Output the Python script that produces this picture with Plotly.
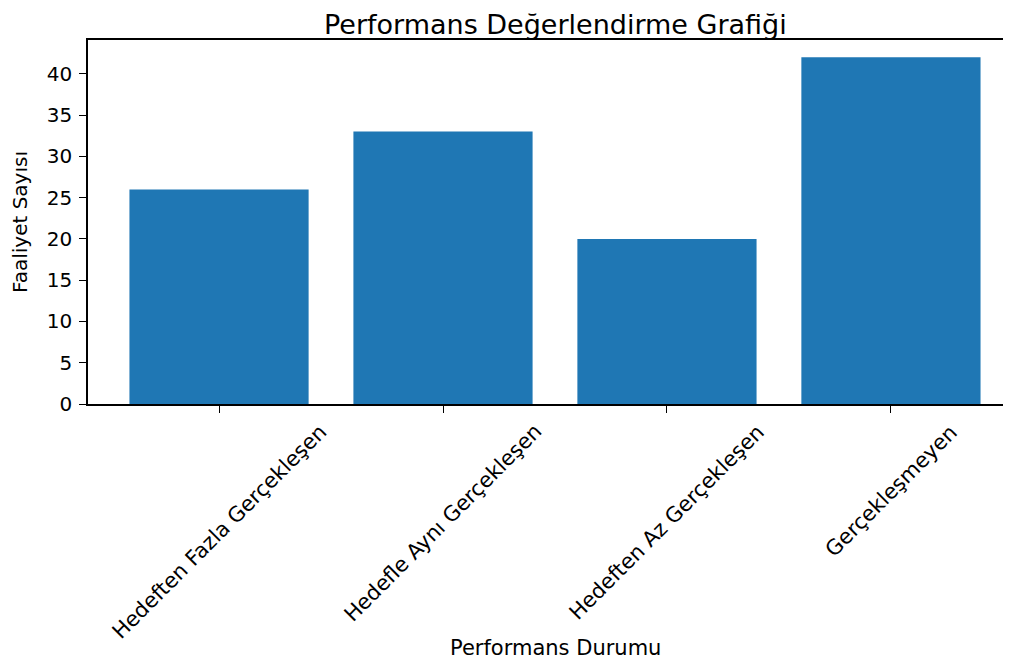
import plotly.graph_objects as go

categories = ["Hedeften Fazla Gerçekleşen", "Hedefle Aynı Gerçekleşen", "Hedeften Az Gerçekleşen", "Gerçekleşmeyen"]
values = [26, 33, 20, 42]
y_ticks = [0, 5, 10, 15, 20, 25, 30, 35, 40]

title_text = "Performans Değerlendirme Grafiği"
x_title = "Performans Durumu"
y_title = "Faaliyet Sayısı"

FONT = "DejaVu Sans"
BLUE = "#1f77b4"

# the page body has an 8px margin, so the figure is made 8px smaller and margins compensate
fig = go.Figure()
fig.add_trace(go.Bar(x=categories, y=values, width=0.8, marker=dict(color=BLUE, line=dict(width=0))))

annotations = []
for c in categories:
    annotations.append(dict(x=c, xref="x", y=0, yref="paper", yanchor="top", xanchor="center",
                            yshift=-13, text=c, textangle=-45, showarrow=False,
                            font=dict(family=FONT, size=21, color="#000")))
annotations.append(dict(x=(555 - 88) / 923, xref="paper", y=0, yref="paper", yshift=-(648 - 404),
                        xanchor="center", yanchor="middle", text=x_title, showarrow=False,
                        font=dict(family=FONT, size=21, color="#000")))
annotations.append(dict(x=0, xref="paper", xshift=-(88 - 20), y=0.5, yref="paper",
                        xanchor="center", yanchor="middle", text=y_title, textangle=-90, showarrow=False,
                        font=dict(family=FONT, size=20, color="#000")))
annotations.append(dict(x=(555 - 88) / 923, xref="paper", y=1, yref="paper", yshift=40 - 24,
                        xanchor="center", yanchor="middle", text=title_text, showarrow=False,
                        font=dict(family=FONT, size=27, color="#000")))

fig.update_layout(
    width=1003, height=654,
    margin=dict(l=80, r=0, t=32, b=258),
    paper_bgcolor="white", plot_bgcolor="white",
    showlegend=False,
    font=dict(family=FONT, size=20, color="#000"),
    annotations=annotations,
    xaxis=dict(range=[-0.585, 3.536], showticklabels=False, ticks="outside", ticklen=7, tickwidth=1.3,
               tickcolor="#000", showline=True, linecolor="#000", linewidth=1.6, mirror=True,
               showgrid=False, zeroline=False),
    yaxis=dict(range=[0, 44.1], tickvals=y_ticks, ticks="outside", ticklen=7, tickwidth=1.3,
               tickcolor="#000", showline=True, linecolor="#000", linewidth=1.6, mirror=False,
               showgrid=False, zeroline=False, ticklabelstandoff=3,
               tickfont=dict(family=FONT, size=20, color="#000")),
)

fig.write_html("out.html")
